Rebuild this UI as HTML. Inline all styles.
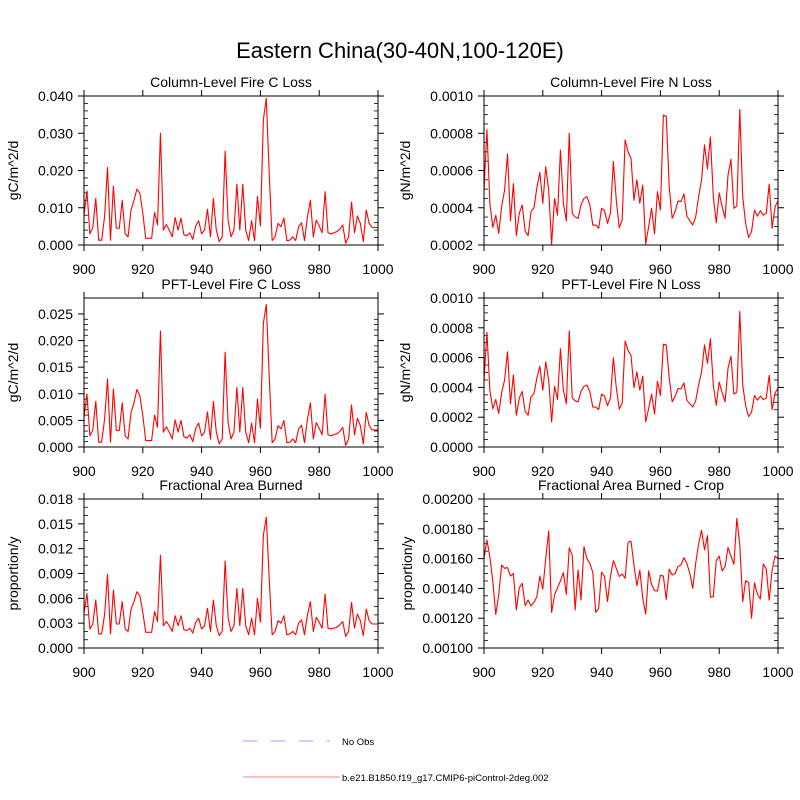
<!DOCTYPE html>
<html><head><meta charset="utf-8"><style>
body{margin:0;background:#fff;width:800px;height:800px;overflow:hidden}
svg{display:block;font-family:"Liberation Sans",Arial,sans-serif}
</style></head><body>
<svg id="chart" width="800" height="800" viewBox="0 0 800 800">
<text x="400" y="58" font-size="22" text-anchor="middle">Eastern China(30-40N,100-120E)</text>
<g id="panels"></g>
<g>
<line x1="243" y1="741" x2="330" y2="741" stroke="#aab0ff" stroke-width="1.3" stroke-dasharray="14,14"/>
<text x="342" y="745" font-size="9.5">No Obs</text>
<line x1="243" y1="777" x2="340" y2="777" stroke="#ff9a9a" stroke-width="1.3"/>
<text x="342" y="781" font-size="9.5">b.e21.B1850.f19_g17.CMIP6-piControl-2deg.002</text>
</g>
</svg>
<script>
const years = Array.from({length:101},(_,i)=>900+i);
const xTicks = [900,920,940,960,980,1000];
const colFireC = [0.008,0.0145,0.003,0.0047,0.0125,0.0013,0.0013,0.0076,0.0208,0.0013,0.0158,0.0045,0.0045,0.012,0.003,0.0022,0.0094,0.012,0.015,0.0139,0.0085,0.0018,0.0018,0.0018,0.0087,0.0054,0.030,0.004,0.0055,0.004,0.0022,0.0074,0.004,0.0072,0.0027,0.0025,0.0033,0.0015,0.0051,0.0065,0.003,0.004,0.0096,0.0022,0.0125,0.004,0.0009,0.0022,0.0252,0.0067,0.0022,0.004,0.0163,0.004,0.0163,0.004,0.0012,0.0065,0.0012,0.013,0.0051,0.0336,0.0394,0.0192,0.0012,0.0022,0.0058,0.0049,0.0072,0.0012,0.0013,0.0022,0.0012,0.0049,0.006,0.0012,0.0076,0.012,0.0022,0.0067,0.0051,0.0033,0.0143,0.0033,0.003,0.0033,0.0036,0.0042,0.0054,0.0005,0.0022,0.0115,0.0033,0.0078,0.0058,0.0009,0.0094,0.0058,0.0047,0.0047,0.0047];
const colFireN = [0.000495,0.00082,0.000424,0.000295,0.00036,0.000263,0.000406,0.000495,0.00069,0.00033,0.00053,0.00025,0.00037,0.000415,0.000275,0.00025,0.00038,0.0004,0.00051,0.00059,0.000424,0.00062,0.000495,0.000205,0.00045,0.00036,0.00071,0.000424,0.00033,0.0008,0.00037,0.00035,0.000343,0.000415,0.00045,0.00046,0.000415,0.000307,0.000307,0.00029,0.000397,0.000384,0.000316,0.00037,0.000648,0.00044,0.000293,0.000334,0.000764,0.0007,0.000665,0.00044,0.00055,0.000424,0.000522,0.000205,0.000298,0.000397,0.00026,0.000486,0.000388,0.000898,0.00089,0.00051,0.000343,0.00038,0.000436,0.000433,0.000474,0.000355,0.00033,0.000307,0.00035,0.00046,0.00055,0.000737,0.00061,0.00078,0.00046,0.00032,0.00048,0.000406,0.000343,0.000576,0.00066,0.000397,0.00041,0.000928,0.00046,0.000316,0.00024,0.000272,0.000388,0.000355,0.000384,0.00036,0.00037,0.000527,0.00029,0.000406,0.000436];
const pftFireC = [0.0055,0.010,0.0021,0.0032,0.0086,0.0009,0.0009,0.0052,0.0128,0.0009,0.0109,0.0031,0.0031,0.0083,0.0021,0.0015,0.0065,0.0083,0.0108,0.0096,0.0059,0.0012,0.0012,0.0012,0.006,0.0037,0.0218,0.0028,0.0038,0.0028,0.0015,0.0051,0.0028,0.005,0.0019,0.0017,0.0023,0.001,0.0035,0.0045,0.0021,0.0028,0.0066,0.0015,0.0086,0.0028,0.0006,0.0015,0.0178,0.0046,0.0015,0.0028,0.0112,0.0028,0.0112,0.0028,0.0008,0.0045,0.0008,0.009,0.0035,0.0232,0.0268,0.0132,0.0008,0.0015,0.004,0.0034,0.005,0.0008,0.0009,0.0015,0.0008,0.0034,0.0041,0.0008,0.0052,0.0083,0.0015,0.0046,0.0035,0.0023,0.0099,0.0023,0.0021,0.0023,0.0025,0.0029,0.0037,0.0003,0.0015,0.0079,0.0023,0.0054,0.004,0.0006,0.0065,0.004,0.0032,0.0032,0.0032];
const pftFireN = [0.00045,0.00077,0.00038,0.000256,0.000319,0.000225,0.000364,0.00045,0.000639,0.00029,0.000484,0.000213,0.000329,0.000373,0.000237,0.000213,0.000339,0.000358,0.000465,0.000542,0.000381,0.000571,0.00045,0.000169,0.000407,0.000319,0.000659,0.000381,0.00029,0.00078,0.000329,0.00031,0.000303,0.000373,0.000407,0.000416,0.000373,0.000268,0.000268,0.000251,0.000355,0.000342,0.000277,0.000329,0.000599,0.000397,0.000254,0.000294,0.000711,0.000649,0.000615,0.000397,0.000504,0.000381,0.000476,0.000169,0.000259,0.000355,0.000222,0.000441,0.000346,0.00069,0.000685,0.000465,0.000303,0.000339,0.000393,0.00039,0.00043,0.000314,0.00029,0.000268,0.00031,0.000416,0.000504,0.000685,0.000562,0.000727,0.000416,0.00028,0.000436,0.000364,0.000303,0.000529,0.00061,0.000355,0.000368,0.00091,0.000416,0.000277,0.000203,0.000234,0.000346,0.000314,0.000342,0.000319,0.000329,0.000481,0.000251,0.000364,0.000393];
const fracBurned = [0.0042,0.0066,0.0023,0.0029,0.0058,0.0017,0.0017,0.004,0.0089,0.0017,0.0070,0.0029,0.0029,0.0056,0.0023,0.002,0.0047,0.0056,0.0068,0.0063,0.0043,0.0019,0.0019,0.0019,0.0044,0.0032,0.0112,0.0027,0.0032,0.0027,0.002,0.0039,0.0027,0.0039,0.0022,0.0021,0.0024,0.0018,0.0031,0.0036,0.0023,0.0027,0.0048,0.002,0.0058,0.0027,0.0015,0.002,0.0105,0.0037,0.002,0.0027,0.0072,0.0027,0.0072,0.0027,0.0016,0.0036,0.0016,0.006,0.0031,0.0136,0.0158,0.0083,0.0016,0.002,0.0033,0.003,0.0039,0.0016,0.0017,0.002,0.0016,0.003,0.0034,0.0016,0.004,0.0056,0.002,0.0037,0.0031,0.0024,0.0065,0.0024,0.0023,0.0024,0.0025,0.0028,0.0032,0.0014,0.002,0.0055,0.0024,0.0041,0.0033,0.0015,0.0047,0.0033,0.0029,0.0029,0.0029];
const fracBurnedCrop = [0.0016,0.001725,0.00161,0.001445,0.001226,0.001356,0.001557,0.001535,0.00154,0.001483,0.0015,0.001255,0.001405,0.001434,0.001284,0.001322,0.001282,0.001306,0.001345,0.001483,0.001396,0.0016,0.001785,0.001239,0.001356,0.001405,0.00145,0.001506,0.00136,0.001673,0.001624,0.001255,0.001523,0.001322,0.00168,0.0016,0.001568,0.001508,0.001239,0.001266,0.001508,0.00148,0.001311,0.00148,0.001586,0.001535,0.00148,0.001497,0.001468,0.001709,0.001718,0.001557,0.001418,0.001523,0.001333,0.001228,0.001517,0.001427,0.001385,0.001383,0.001488,0.001483,0.001326,0.00153,0.00149,0.0015,0.001548,0.001557,0.001606,0.001568,0.0015,0.0014,0.001568,0.0017,0.00179,0.001658,0.001754,0.00134,0.001345,0.001586,0.001617,0.001517,0.001546,0.001676,0.001617,0.001562,0.00187,0.001691,0.001311,0.001452,0.00144,0.001199,0.001438,0.00136,0.001329,0.001564,0.00153,0.001322,0.001523,0.001617,0.0016];
const ticksCL = ["0.000","0.010","0.020","0.030","0.040"];
const ticksNL = ["0.0002","0.0004","0.0006","0.0008","0.0010"];
const ticksPC = ["0.000","0.005","0.010","0.015","0.020","0.025"];
const ticksPN = ["0.0000","0.0002","0.0004","0.0006","0.0008","0.0010"];
const ticksFB = ["0.000","0.003","0.006","0.009","0.012","0.015","0.018"];
const ticksFC = ["0.00100","0.00120","0.00140","0.00160","0.00180","0.00200"];

const panels = [
 {name:"column-fire-c-loss",title:"Column-Level Fire C Loss",yl:"gC/m^2/d",ylx:13,x:84,y:96,data:colFireC,ticks:ticksCL,ymin:0,ymax:0.04,minor:5},
 {name:"column-fire-n-loss",title:"Column-Level Fire N Loss",yl:"gN/m^2/d",ylx:405,x:484,y:96,data:colFireN,ticks:ticksNL,ymin:0.0002,ymax:0.001,minor:4},
 {name:"pft-fire-c-loss",title:"PFT-Level Fire C Loss",yl:"gC/m^2/d",ylx:13,x:84,y:298,data:pftFireC,ticks:ticksPC,ymin:0,ymax:0.028,minor:5},
 {name:"pft-fire-n-loss",title:"PFT-Level Fire N Loss",yl:"gN/m^2/d",ylx:405,x:484,y:298,data:pftFireN,ticks:ticksPN,ymin:0,ymax:0.001,minor:4},
 {name:"fractional-area-burned",title:"Fractional Area Burned",yl:"proportion/y",ylx:13,x:84,y:499,data:fracBurned,ticks:ticksFB,ymin:0,ymax:0.018,minor:3},
 {name:"fractional-area-burned-crop",title:"Fractional Area Burned - Crop",yl:"proportion/y",ylx:407,x:484,y:499,data:fracBurnedCrop,ticks:ticksFC,ymin:0.001,ymax:0.002,minor:4}
];
const W=294,H=149,NS="http://www.w3.org/2000/svg";
const root=document.getElementById('panels');
function mk(tag,attrs,parent){const e=document.createElementNS(NS,tag);for(const k in attrs)e.setAttribute(k,attrs[k]);parent.appendChild(e);return e;}
panels.forEach(p=>{
 const g=mk('g',{},root);
 
 
 const xs=v=>p.x+(v-900)/100*W;
 const ys=v=>p.y+H-(v-p.ymin)/(p.ymax-p.ymin)*H;
 const t=mk('text',{x:p.x+W/2,y:p.y-9,'font-size':14,'text-anchor':'middle'},g);t.textContent=p.title;
 
 
 const yl=mk('text',{x:0,y:0,'font-size':14,'text-anchor':'middle',transform:`translate(${p.ylx+5},${p.y+H/2}) rotate(-90)`},g);yl.textContent=p.yl;
 
 
 p.ticks.forEach((lab,i)=>{
  const v=parseFloat(lab);const yy=ys(v);
  mk('line',{x1:p.x-6,y1:yy,x2:p.x,y2:yy,stroke:'#000','stroke-width':1},g);
  mk('line',{x1:p.x+W,y1:yy,x2:p.x+W+6,y2:yy,stroke:'#000','stroke-width':1},g);
  const tl=mk('text',{x:p.x-11,y:yy+5,'font-size':14,'text-anchor':'end'},g);tl.textContent=lab;
  
  
  if(i<p.ticks.length-1){const nv=parseFloat(p.ticks[i+1]);
   for(let k=1;k<p.minor;k++){const my=ys(v+(nv-v)*k/p.minor);
    mk('line',{x1:p.x,y1:my,x2:p.x+4,y2:my,stroke:'#000','stroke-width':0.8},g);
    mk('line',{x1:p.x+W-4,y1:my,x2:p.x+W,y2:my,stroke:'#000','stroke-width':0.8},g);}}
 });
 xTicks.forEach(v=>{const xx=xs(v);
  mk('line',{x1:xx,y1:p.y+H,x2:xx,y2:p.y+H+6,stroke:'#000','stroke-width':1},g);
  mk('line',{x1:xx,y1:p.y-6,x2:xx,y2:p.y,stroke:'#000','stroke-width':1},g);
  const xl=mk('text',{x:xx,y:p.y+H+29,'font-size':14,'text-anchor':'middle'},g);xl.textContent=v;
  
  
 });
 const pts=p.data.map((v,i)=>xs(years[i]).toFixed(2)+','+ys(v).toFixed(2)).join(' ');
 const line=mk('polyline',{points:pts,fill:'none',stroke:'#ff0000','stroke-width':1.1,'stroke-linejoin':'round'},g);
 
 
 const fr=mk('rect',{x:p.x,y:p.y,width:W,height:H,fill:'none',stroke:'#000','stroke-width':1},g);
 
 
});
</script>
</body></html>
